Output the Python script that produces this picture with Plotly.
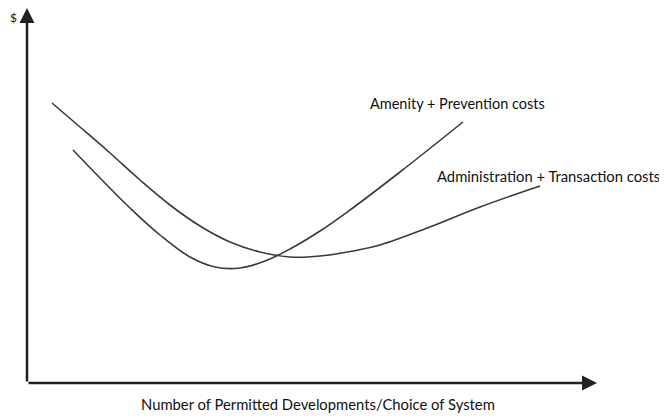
import plotly.graph_objects as go

# ==========================================================
# DATA (arbitrary units)
# ==========================================================

admin_x = [25, 53, 83, 113, 143, 173, 203, 233, 263, 293, 326, 353, 403, 453, 513]
admin_y = [280, 256, 230, 203, 178, 157, 141, 131, 126, 127, 132, 138, 156, 176, 197]

amenity_x = [46, 73, 103, 133, 163, 188, 213, 238, 263, 293, 323, 373, 436]
amenity_y = [233, 205, 175, 148, 126, 116, 115, 122, 134, 152, 173, 211, 261]

LINE_COLOR = "#3a3a3a"
TEXT_COLOR = "#111111"
FONT = "Lato"

X_MAX = 570
Y_MAX = 375

# ==========================================================
# FIGURE
# ==========================================================

fig = go.Figure()

fig.add_trace(go.Scatter(
    x=admin_x,
    y=admin_y,
    mode="lines",
    line=dict(color=LINE_COLOR, width=1.6, shape="spline", smoothing=1.1),
    name="Administration + Transaction costs"
))

fig.add_trace(go.Scatter(
    x=amenity_x,
    y=amenity_y,
    mode="lines",
    line=dict(color=LINE_COLOR, width=1.6, shape="spline", smoothing=1.1),
    name="Amenity + Prevention costs"
))

annotations = [
    # y axis with arrow
    dict(x=0, y=Y_MAX, ax=0, ay=0, xref="x", yref="y", axref="x", ayref="y",
         text="", showarrow=True, arrowhead=2, arrowsize=1.2, arrowwidth=2.5,
         arrowcolor="#222"),
    # x axis with arrow
    dict(x=X_MAX, y=0, ax=0, ay=0, xref="x", yref="y", axref="x", ayref="y",
         text="", showarrow=True, arrowhead=2, arrowsize=1.2, arrowwidth=2.5,
         arrowcolor="#222"),
    dict(x=341, y=280, xref="x", yref="y", text="Amenity + Prevention costs",
         showarrow=False, xanchor="left", yanchor="middle",
         font=dict(size=14.5, color=TEXT_COLOR, family=FONT)),
    dict(x=408, y=207, xref="x", yref="y", text="Administration + Transaction costs",
         showarrow=False, xanchor="left", yanchor="middle",
         font=dict(size=14.8, color=TEXT_COLOR, family=FONT)),
    dict(x=-0.033, y=1.0, xref="paper", yref="paper", text="$",
         showarrow=False, xanchor="left", yanchor="top",
         font=dict(size=12, color=TEXT_COLOR, family=FONT)),
    dict(x=0.511, y=-0.057, xref="paper", yref="paper",
         text="Number of Permitted Developments/Choice of System",
         showarrow=False, xanchor="center", yanchor="middle",
         font=dict(size=14.8, color=TEXT_COLOR, family=FONT)),
]

fig.update_layout(
    width=667,
    height=416,
    paper_bgcolor="white",
    plot_bgcolor="white",
    showlegend=False,
    margin=dict(l=19, r=78, t=0, b=41),
    annotations=annotations,
    font=dict(family=FONT, color=TEXT_COLOR)
)

fig.update_xaxes(range=[0, X_MAX], visible=False, fixedrange=True)
fig.update_yaxes(range=[0, Y_MAX], visible=False, fixedrange=True)

fig.write_html("out.html", config=dict(displayModeBar=False))
